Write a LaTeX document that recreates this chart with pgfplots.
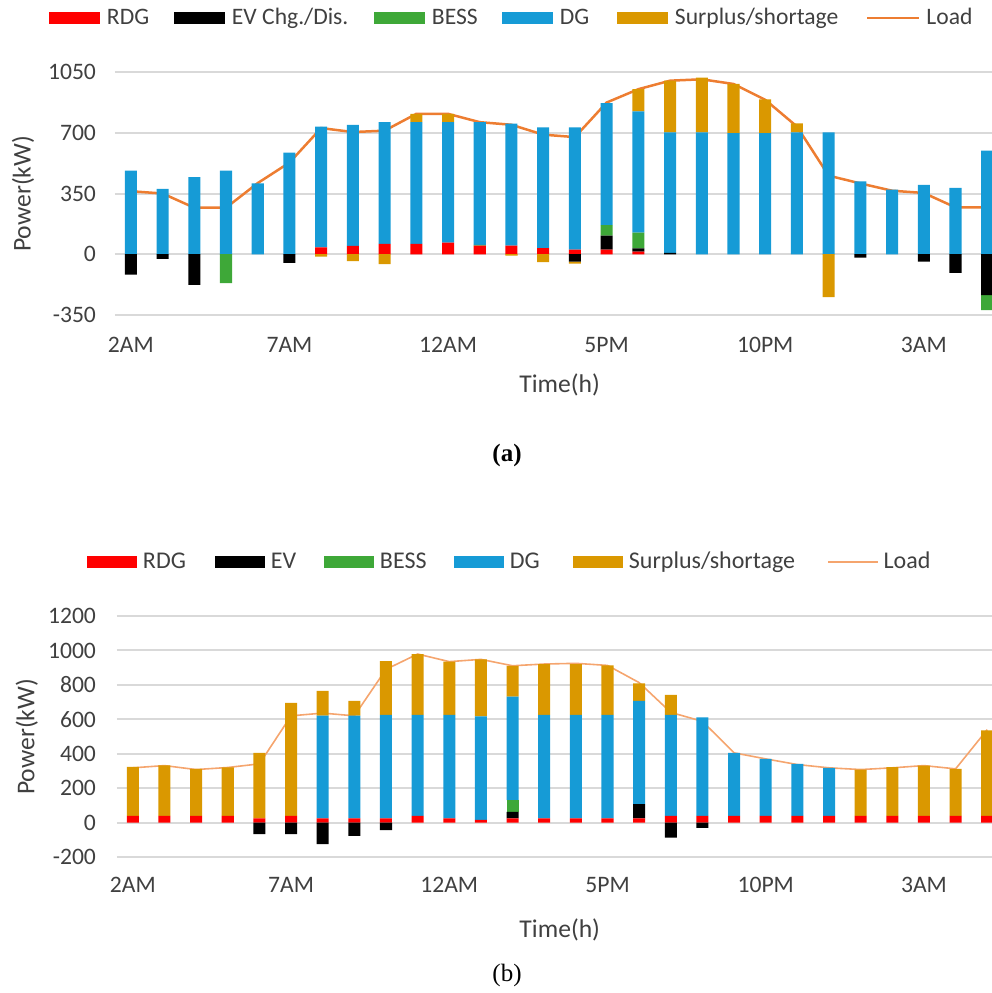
\documentclass[border=0pt]{standalone}
\usepackage{fontspec}
\setmainfont{Carlito}
\newfontfamily\capfont{Liberation Serif}
\usepackage{pgfplots}
\usepackage{pgfplotstable}
\pgfplotsset{compat=1.18}

\definecolor{cRDG}{RGB}{255,0,0}
\definecolor{cEV}{RGB}{0,0,0}
\definecolor{cBESS}{RGB}{62,168,56}
\definecolor{cDG}{RGB}{22,155,214}
\definecolor{cSur}{RGB}{218,152,0}
\definecolor{cLoadA}{RGB}{237,125,49}
\definecolor{cLoadB}{RGB}{245,165,110}
\definecolor{gridgray}{RGB}{217,217,217}
\definecolor{textgray}{RGB}{64,64,64}

% panel (a): positive parts stack upward, negative parts stack downward
\pgfplotstableread{
x  rdg evp bessp dg  sur evn  bessn surn load
0  0   0   0     482 0   -117 0     0    363
1  0   0   0     377 0   -27  0     0    350
2  0   0   0     444 0   -176 0     0    268
3  0   0   0     482 0   0    -166  0    268
4  0   0   0     409 0   0    0     0    410
5  0   0   0     585 0   -50  0     0    528
6  40  0   0     695 0   0    0     -13  727
7  48  0   0     698 0   0    0     -40  704
8  60  0   0     701 0   0    0     -57  712
9  60  0   0     701 48  0    0     0    809
10 67  0   0     694 48  0    0     0    809
11 50  0   4     707 0   0    0     0    761
12 50  0   0     702 0   0    0     -8   746
13 35  0   0     696 0   0    0     -45  689
14 27  0   0     704 0   -42  0     -12  675
15 27  81  60    702 0   0    0     0    874
16 15  19  90    699 128 0    0     0    951
17 0   8   0     694 298 0    0     0    1000
18 0   0   0     702 316 0    0     0    1008
19 0   0   0     698 283 0    0     0    981
20 0   0   0     698 195 0    0     0    890
21 0   0   0     702 52  0    0     0    736
22 0   0   0     702 0   0    0     -247 453
23 0   0   0     420 0   -19  0     0    408
24 0   0   0     372 0   0    0     0    366
25 0   0   0     399 0   -42  0     0    353
26 0   0   0     382 0   -108 0     0    270
27 0   0   0     597 0   -235 -87   0    270
}\dataA

% panel (b)
\pgfplotstableread{
x  rdg evp bessp dg  sur evn  load
0  39  0   0     0   285 0    318
1  39  0   0     0   294 0    331
2  39  0   0     0   273 0    308
3  39  0   0     0   281 0    320
4  25  0   0     0   380 -67  341
5  39  0   0     0   657 -67  620
6  25  0   0     597 143 -125 636
7  25  0   0     597 85  -77  620
8  25  0   0     601 312 -44  890
9  39  0   0     587 353 0    979
10 25  0   0     601 309 0    935
11 16  0   0     601 331 0    948
12 25  37  68    602 179 0    911
13 25  0   0     601 295 0    921
14 25  0   0     601 295 0    925
15 25  0   0     601 287 0    913
16 25  82  0     600 102 0    813
17 39  0   0     587 116 -87  640
18 39  0   0     572 0   -31  588
19 39  0   0     366 0   0    405
20 39  0   0     331 0   0    370
21 39  0   0     302 0   0    337
22 39  0   0     279 0   0    318
23 39  0   0     0   269 0    308
24 39  0   0     0   283 0    318
25 39  0   0     0   292 0    331
26 39  0   0     0   273 0    312
27 39  0   0     0   497 0    540
}\dataB

\pgfplotsset{
  base/.style={
    scale only axis, ybar stacked, bar width=0.38,
    xmin=-0.5, xmax=27.15,
    axis line style={draw=none}, tick style={draw=none}, major tick style={draw=none},
    xtick={0,5,10,15,20,25}, xticklabels={2AM,7AM,12AM,5PM,10PM,3AM},
    ymajorgrids, grid style={line width=1pt, draw=gridgray},
    tick label style={font=\fontsize{11.8}{13}\selectfont, text=textgray},
    /pgf/number format/assume math mode=true, /pgf/number format/1000 sep={},
    label style={font=\fontsize{12.8}{14}\selectfont, text=textgray},
  },
  barlegA/.style={legend image code/.code={\path (0pt,0pt) (29pt,0pt);
      \fill[##1] (0pt,-3.2pt) rectangle (25.3pt,3.2pt);}},
  linelegA/.style={legend image code/.code={\path (0pt,0pt) (29pt,0pt);
      \draw[##1] (0pt,0pt) -- (26pt,0pt);}},
  barlegB/.style={legend image code/.code={\path (0pt,0pt) (28pt,0pt);
      \fill[##1] (0pt,-3.2pt) rectangle (25pt,3.2pt);}},
  linelegB/.style={legend image code/.code={\path (0pt,0pt) (27.5pt,0pt);
      \draw[##1] (0pt,0pt) -- (25pt,0pt);}},
  leg/.style={
    legend style={draw=none, fill=none, anchor=west, inner sep=0pt, outer sep=0pt,
      font=\fontsize{#1}{13}\selectfont, text=textgray,
      nodes={inner xsep=0pt, inner ysep=1pt, outer sep=0pt}, column sep=0pt,
      cells={anchor=west}},
    legend columns=6,
  },
}

\begin{document}
\begin{tikzpicture}
\useasboundingbox (0pt,0pt) rectangle (496pt,496.5pt);

% ---------------- panel (a) ----------------
\begin{axis}[base, leg=11.8, barlegA,
  at={(57.5pt,339pt)}, anchor=south west, width=438.5pt, height=121.5pt,
  ymin=-350, ymax=1050, ytick={-350,0,350,700,1050},
  xticklabel style={yshift=-7.5pt}, yticklabel style={xshift=-6pt},
  xlabel={Time(h)}, ylabel={Power(kW)},
  xlabel style={at={(axis description cs:0.507,-0.288)}, anchor=center},
  ylabel style={at={(axis description cs:-0.105,0.498)}, anchor=center},
  legend style={at={(axis description cs:-0.0753,1.222)}},
]
\addplot[fill=cRDG, draw=none] table[x=x,y=rdg]{\dataA};
\addlegendentry{\makebox[33.5pt][l]{RDG}}
\addplot[fill=cEV, draw=none] table[x=x,y=evp]{\dataA};
\addlegendentry{\makebox[71pt][l]{EV Chg./Dis.}}
\addplot[fill=cBESS, draw=none] table[x=x,y=bessp]{\dataA};
\addlegendentry{\makebox[35pt][l]{BESS}}
\addplot[fill=cDG, draw=none] table[x=x,y=dg]{\dataA};
\addlegendentry{\makebox[28.5pt][l]{DG}}
\addplot[fill=cSur, draw=none] table[x=x,y=sur]{\dataA};
\addlegendentry{\makebox[95.5pt][l]{Surplus/shortage}}
\addplot[sharp plot, stack plots=false, draw=cLoadA, line width=1.25pt, mark=none, linelegA]
  table[x=x,y=load]{\dataA};
\addlegendentry{Load}
\end{axis}
\begin{axis}[base, hide axis,
  at={(57.5pt,339pt)}, anchor=south west, width=438.5pt, height=121.5pt,
  ymin=-350, ymax=1050]
\addplot[fill=cEV, draw=none] table[x=x,y=evn]{\dataA};
\addplot[fill=cBESS, draw=none] table[x=x,y=bessn]{\dataA};
\addplot[fill=cSur, draw=none] table[x=x,y=surn]{\dataA};
\end{axis}
\node[font=\capfont\bfseries\fontsize{12.5}{14}\selectfont] at (253.5pt,269pt) {(a)};

% ---------------- panel (b) ----------------
\begin{axis}[base, leg=12, barlegB,
  at={(58.5pt,68pt)}, anchor=south west, width=437.5pt, height=120.5pt,
  ymin=-200, ymax=1200, ytick={-200,0,200,400,600,800,1000,1200},
  xticklabel style={yshift=-6.5pt}, yticklabel style={xshift=-7pt},
  xlabel={Time(h)}, ylabel={Power(kW)},
  xlabel style={at={(axis description cs:0.506,-0.303)}, anchor=center},
  ylabel style={at={(axis description cs:-0.103,0.498)}, anchor=center},
  legend style={at={(axis description cs:-0.0343,1.224)}},
]
\addplot[fill=cRDG, draw=none] table[x=x,y=rdg]{\dataB};
\addlegendentry{\makebox[36pt][l]{RDG}}
\addplot[fill=cEV, draw=none] table[x=x,y=evp]{\dataB};
\addlegendentry{\makebox[26.5pt][l]{EV}}
\addplot[fill=cBESS, draw=none] table[x=x,y=bessp]{\dataB};
\addlegendentry{\makebox[37pt][l]{BESS}}
\addplot[fill=cDG, draw=none] table[x=x,y=dg]{\dataB};
\addlegendentry{\makebox[31.5pt][l]{DG}}
\addplot[fill=cSur, draw=none] table[x=x,y=sur]{\dataB};
\addlegendentry{\makebox[99pt][l]{Surplus/shortage}}
\addplot[sharp plot, stack plots=false, draw=cLoadB, line width=0.8pt, mark=none, linelegB]
  table[x=x,y=load]{\dataB};
\addlegendentry{Load}
\end{axis}
\begin{axis}[base, hide axis,
  at={(58.5pt,68pt)}, anchor=south west, width=437.5pt, height=120.5pt,
  ymin=-200, ymax=1200]
\addplot[fill=cEV, draw=none] table[x=x,y=evn]{\dataB};
\end{axis}
\node[font=\capfont\fontsize{12.5}{14}\selectfont] at (253.5pt,9pt) {(b)};
\end{tikzpicture}
\end{document}
